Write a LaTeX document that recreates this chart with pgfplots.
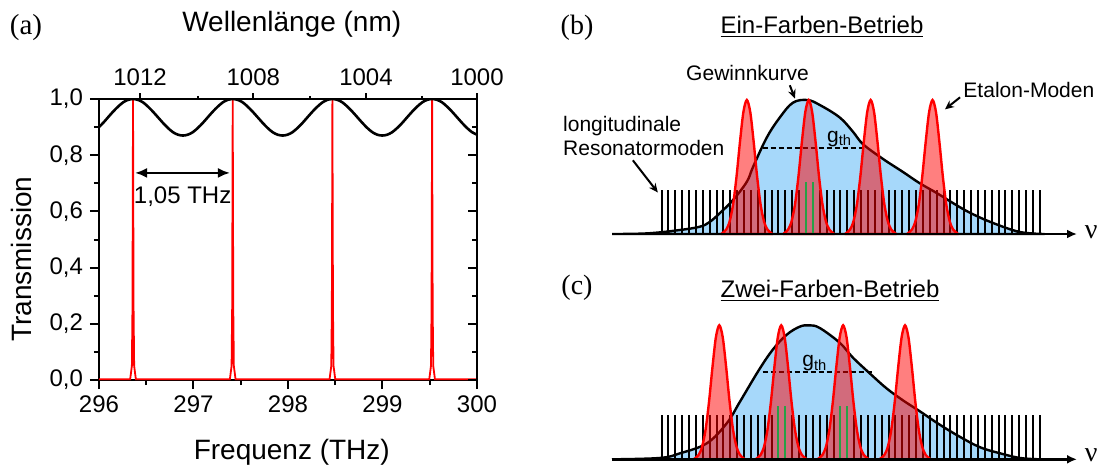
\documentclass[border=0pt]{standalone}
\usepackage{fontspec}
\setmainfont{Liberation Sans}
\newfontfamily\serif{Liberation Serif}
\usepackage{pgfplots}
\pgfplotsset{compat=1.18}
\usetikzlibrary{arrows.meta}
\definecolor{gainblue}{RGB}{166,216,250}
\definecolor{modegreen}{RGB}{40,160,70}

% 1 px of the 1103x467 picture = 0.5pt
\pgfplotsset{
  schema/.style={
    scale only axis, width=232.5pt, height=67pt,
    xmin=-7.2, xmax=60.4, ymin=0, ymax=1,
    hide axis, clip=false, anchor=south west
  },
  gain/.style={draw=black, fill=gainblue, line width=1.2pt, smooth, tension=0.6},
  etalon/.style={draw=red, line width=1.2pt, fill=red, fill opacity=0.5, smooth},
  modes/.style={ycomb, black, line width=1pt, mark=none},
  lasing/.style={ycomb, modegreen, line width=1pt, mark=none},
  gth/.style={black, line width=0.9pt, dash pattern=on 2.5pt off 1.5pt},
  frame/.style={
    scale only axis, width=189pt, height=140.5pt,
    at={(49.5pt,-190pt)}, anchor=south west,
    xmin=296, xmax=300, ymin=0, ymax=1,
    axis line style={line width=1.2pt},
    every tick/.style={black, line width=1pt},
    tick label style={font=\fontsize{12}{14}\selectfont}
  }
}
\tikzset{note/.style={font=\fontsize{10.5}{11.7}\selectfont, inner sep=0pt},
  pointer/.style={line width=1pt, -{Stealth[length=4.5pt,width=4pt]}},
  axlabel/.style={font=\fontsize{14}{16}\selectfont, anchor=center},
  nu/.style={font=\serif\fontsize{14}{16}\selectfont, inner sep=0pt, anchor=west}}

\begin{document}
\begin{tikzpicture}
\path[use as bounding box] (0pt,0pt) rectangle (551.5pt,-233.5pt);

% ---------- (a) transmission ----------
\begin{axis}[frame,
  xtick={296,297,298,299,300}, minor x tick num=1,
  ytick={0,0.2,0.4,0.6,0.8,1}, minor y tick num=1,
  xtick pos=left, ytick pos=left, tick align=outside,
  major tick length=4.5pt, minor tick length=2.5pt,
  yticklabel style={/pgf/number format/.cd, fixed, fixed zerofill, precision=1, use comma, assume math mode=true},
  xticklabel style={/pgf/number format/assume math mode=true},
  xlabel={Frequenz (THz)}, ylabel={Transmission},
  every axis x label/.style={at={(axis description cs:0.51,-0.256)}, axlabel},
  every axis y label/.style={at={(axis description cs:-0.204,0.43)}, rotate=90, axlabel}]
\addplot[red, line width=0.9pt] coordinates {
  (296,0.003)(296.33,0.003)(296.348,0.05)(296.354,0.25)(296.357,0.6)(296.36,1)(296.363,0.6)(296.366,0.25)(296.372,0.05)(296.39,0.003)
  (297.385,0.003)(297.403,0.05)(297.409,0.25)(297.412,0.6)(297.415,1)(297.418,0.6)(297.421,0.25)(297.427,0.05)(297.445,0.003)
  (298.44,0.003)(298.458,0.05)(298.464,0.25)(298.467,0.6)(298.47,1)(298.473,0.6)(298.476,0.25)(298.482,0.05)(298.5,0.003)
  (299.495,0.003)(299.513,0.05)(299.519,0.25)(299.522,0.6)(299.525,1)(299.528,0.6)(299.531,0.25)(299.537,0.05)(299.555,0.003)(300,0.003)};
\addplot[black, line width=1.3pt, smooth] coordinates {
  (296.000,0.900)(296.044,0.915)(296.096,0.935)(296.149,0.955)(296.202,0.973)(296.255,0.988)(296.307,0.997)(296.360,1.000)
  (296.413,0.997)(296.466,0.988)(296.518,0.973)(296.571,0.955)(296.624,0.935)(296.677,0.915)(296.729,0.897)(296.782,0.882)(296.835,0.873)(296.888,0.870)
  (296.940,0.873)(296.993,0.882)(297.046,0.897)(297.099,0.915)(297.151,0.935)(297.204,0.955)(297.257,0.973)(297.310,0.988)(297.362,0.997)(297.415,1.000)
  (297.468,0.997)(297.521,0.988)(297.573,0.973)(297.626,0.955)(297.679,0.935)(297.732,0.915)(297.784,0.897)(297.837,0.882)(297.890,0.873)(297.943,0.870)
  (297.995,0.873)(298.048,0.882)(298.101,0.897)(298.154,0.915)(298.206,0.935)(298.259,0.955)(298.312,0.973)(298.365,0.988)(298.417,0.997)(298.470,1.000)
  (298.523,0.997)(298.576,0.988)(298.628,0.973)(298.681,0.955)(298.734,0.935)(298.787,0.915)(298.839,0.897)(298.892,0.882)(298.945,0.873)(298.998,0.870)
  (299.050,0.873)(299.103,0.882)(299.156,0.897)(299.209,0.915)(299.261,0.935)(299.314,0.955)(299.367,0.973)(299.420,0.988)(299.472,0.997)(299.525,1.000)
  (299.578,0.997)(299.631,0.988)(299.683,0.973)(299.736,0.955)(299.789,0.935)(299.842,0.915)(299.894,0.897)(299.947,0.882)(300.000,0.873)};
\draw[{Latex[length=6pt,width=5pt]}-{Latex[length=6pt,width=5pt]}, line width=1.2pt]
  (axis cs:296.381,0.737) -- (axis cs:297.386,0.737);
\node[font=\fontsize{12}{14}\selectfont] at (axis cs:296.885,0.653) {1,05 THz};
\end{axis}

% wavelength scale on top
\begin{axis}[frame,
  axis y line=none, axis x line*=top, tick align=outside,
  xtick={296.434,297.633,298.825,300}, xticklabels={1012,1008,1004,1000},
  minor xtick={297.044,298.233,299.415},
  major tick length=3pt, minor tick length=1.6pt,
  xlabel={Wellenlänge (nm)},
  every axis x label/.style={at={(axis description cs:0.51,1.267)}, axlabel}]
\end{axis}

% inner ticks on the right
\begin{axis}[frame,
  axis x line=none, axis y line*=right, tick align=inside,
  ytick={0,0.2,0.4,0.6,0.8,1}, minor y tick num=1, yticklabels={},
  major tick length=4.5pt, minor tick length=2.5pt]
\end{axis}

\node[font=\serif\fontsize{14.5}{16}\selectfont] at (13pt,-14pt) {(a)};

% ---------- (b) one colour ----------
\node[font=\serif\fontsize{14}{16}\selectfont] at (288.5pt,-14pt) {(b)};
\node[anchor=base, font=\fontsize{12}{14}\selectfont] at (411pt,-16.5pt) {\underline{Ein-Farben-Betrieb}};
\begin{axis}[schema, at={(306pt,-117pt)}]
\addplot[gain] coordinates {(-7.2,0)(-2.0,0.005)(2.7,0.03)(5.6,0.055)(7.0,0.09)(8.5,0.157)(10.4,0.254)(12.4,0.39)(13.3,0.50)(15.3,0.72)(17.2,0.87)(19.1,0.98)(21.2,1.0)(23.0,0.963)(25.9,0.87)(27.8,0.765)(29.3,0.67)(32.2,0.56)(35.1,0.463)(37.5,0.38)(40.0,0.306)(42.4,0.23)(44.9,0.157)(48.2,0.082)(52.1,0.015)(55.7,0)} \closedcycle;
\addplot[modes] coordinates {(0,0.33)(1,0.33)(2,0.33)(3,0.33)(4,0.33)(5,0.33)(6,0.33)(7,0.33)(8,0.33)(9,0.33)(10,0.33)(11,0.33)(12,0.33)(13,0.33)(14,0.33)(15,0.33)(16,0.33)(17,0.33)(18,0.33)(19,0.33)(20,0.33)(23,0.33)(24,0.33)(25,0.33)(26,0.33)(27,0.33)(28,0.33)(29,0.33)(30,0.33)(31,0.33)(32,0.33)(33,0.33)(34,0.33)(35,0.33)(36,0.33)(37,0.33)(38,0.33)(39,0.33)(40,0.33)(41,0.33)(42,0.33)(43,0.33)(44,0.33)(45,0.33)(46,0.33)(47,0.33)(48,0.33)(49,0.33)(50,0.33)(51,0.33)(52,0.33)(53,0.33)(54,0.33)(55,0.33)};
\addplot[gth] coordinates {(14.7,0.64)(29.3,0.64)};
\addplot[etalon] coordinates {(8.8,0.005)(9.4,0.033)(9.9,0.094)(10.4,0.22)(10.9,0.427)(11.4,0.685)(11.9,0.91)(12.4,1)(12.9,0.91)(13.4,0.685)(13.9,0.427)(14.4,0.22)(14.9,0.094)(15.4,0.033)(16.0,0.005)} \closedcycle;
\addplot[etalon] coordinates {(17.8,0.005)(18.4,0.033)(18.9,0.094)(19.4,0.22)(19.9,0.427)(20.4,0.685)(20.9,0.91)(21.4,1)(21.9,0.91)(22.4,0.685)(22.9,0.427)(23.4,0.22)(23.9,0.094)(24.4,0.033)(25.0,0.005)} \closedcycle;
\addplot[etalon] coordinates {(26.8,0.005)(27.4,0.033)(27.9,0.094)(28.4,0.22)(28.9,0.427)(29.4,0.685)(29.9,0.91)(30.4,1)(30.9,0.91)(31.4,0.685)(31.9,0.427)(32.4,0.22)(32.9,0.094)(33.4,0.033)(34.0,0.005)} \closedcycle;
\addplot[etalon] coordinates {(35.8,0.005)(36.4,0.033)(36.9,0.094)(37.4,0.22)(37.9,0.427)(38.4,0.685)(38.9,0.91)(39.4,1)(39.9,0.91)(40.4,0.685)(40.9,0.427)(41.4,0.22)(41.9,0.094)(42.4,0.033)(43.0,0.005)} \closedcycle;
\addplot[lasing] coordinates {(21,0.39)(22,0.39)};
\draw[line width=1.2pt, -{Latex[length=5pt,width=4.5pt]}] (axis cs:-7.2,0) -- (axis cs:60.4,0);
\node[nu] at (axis cs:61.5,0.01) {ν};
\node[note] at (axis cs:25.9,0.71) {g\textsubscript{th}};
\node[note] at (axis cs:12.5,1.20) {Gewinnkurve};
\draw[pointer] (axis cs:18.65,1.11) -- (axis cs:19.4,1.01);
\node[note] at (axis cs:53.4,1.075) {Etalon-Moden};
\draw[pointer] (axis cs:43.4,1.02) -- (axis cs:41.2,0.93);
\node[note, anchor=north west, align=left] at (axis cs:-14.35,0.88) {longitudinale\\Resonatormoden};
\draw[pointer] (axis cs:-4.17,0.55) -- (axis cs:-0.54,0.31);
\end{axis}

% ---------- (c) two colours ----------
\node[font=\serif\fontsize{14}{16}\selectfont] at (288.5pt,-143.75pt) {(c)};
\node[anchor=base, font=\fontsize{12}{14}\selectfont] at (415pt,-148.5pt) {\underline{Zwei-Farben-Betrieb}};
\begin{axis}[schema, at={(306pt,-229.65pt)}]
\addplot[gain] coordinates {(-7.2,0)(-0.25,0.01)(2.7,0.045)(6.6,0.12)(9.5,0.27)(11.4,0.43)(14.2,0.67)(16.2,0.82)(18.2,0.93)(20.1,0.99)(21.5,1.0)(23.0,0.98)(25.9,0.87)(27.8,0.76)(30.3,0.64)(32.7,0.53)(35.1,0.44)(37.5,0.36)(40.4,0.26)(43.3,0.17)(46.3,0.09)(49.2,0.045)(52.1,0.01)(55.0,0)} \closedcycle;
\addplot[modes] coordinates {(0,0.33)(1,0.33)(2,0.33)(3,0.33)(4,0.33)(5,0.33)(6,0.33)(7,0.33)(8,0.33)(9,0.33)(10,0.33)(11,0.33)(12,0.33)(13,0.33)(14,0.33)(15,0.33)(16,0.33)(19,0.33)(20,0.33)(21,0.33)(22,0.33)(23,0.33)(24,0.33)(25,0.33)(28,0.33)(29,0.33)(30,0.33)(31,0.33)(32,0.33)(33,0.33)(34,0.33)(35,0.33)(36,0.33)(37,0.33)(38,0.33)(39,0.33)(40,0.33)(41,0.33)(42,0.33)(43,0.33)(44,0.33)(45,0.33)(46,0.33)(47,0.33)(48,0.33)(49,0.33)(50,0.33)(51,0.33)(52,0.33)(53,0.33)(54,0.33)(55,0.33)};
\addplot[gth] coordinates {(14.7,0.65)(30.8,0.65)};
\addplot[etalon] coordinates {(4.8,0.005)(5.4,0.033)(5.9,0.094)(6.4,0.22)(6.9,0.427)(7.4,0.685)(7.9,0.91)(8.4,1)(8.9,0.91)(9.4,0.685)(9.9,0.427)(10.4,0.22)(10.9,0.094)(11.4,0.033)(12.0,0.005)} \closedcycle;
\addplot[etalon] coordinates {(13.8,0.005)(14.4,0.033)(14.9,0.094)(15.4,0.22)(15.9,0.427)(16.4,0.685)(16.9,0.91)(17.4,1)(17.9,0.91)(18.4,0.685)(18.9,0.427)(19.4,0.22)(19.9,0.094)(20.4,0.033)(21.0,0.005)} \closedcycle;
\addplot[etalon] coordinates {(22.8,0.005)(23.4,0.033)(23.9,0.094)(24.4,0.22)(24.9,0.427)(25.4,0.685)(25.9,0.91)(26.4,1)(26.9,0.91)(27.4,0.685)(27.9,0.427)(28.4,0.22)(28.9,0.094)(29.4,0.033)(30.0,0.005)} \closedcycle;
\addplot[etalon] coordinates {(31.8,0.005)(32.4,0.033)(32.9,0.094)(33.4,0.22)(33.9,0.427)(34.4,0.685)(34.9,0.91)(35.4,1)(35.9,0.91)(36.4,0.685)(36.9,0.427)(37.4,0.22)(37.9,0.094)(38.4,0.033)(39.0,0.005)} \closedcycle;
\addplot[lasing] coordinates {(17,0.40)(18,0.40)(26,0.40)(27,0.40)};
\draw[line width=1.2pt, -{Latex[length=5pt,width=4.5pt]}] (axis cs:-7.2,0) -- (axis cs:60.4,0);
\node[nu] at (axis cs:61.5,0.03) {ν};
\node[note] at (axis cs:22.3,0.715) {g\textsubscript{th}};
\end{axis}
\end{tikzpicture}
\end{document}
